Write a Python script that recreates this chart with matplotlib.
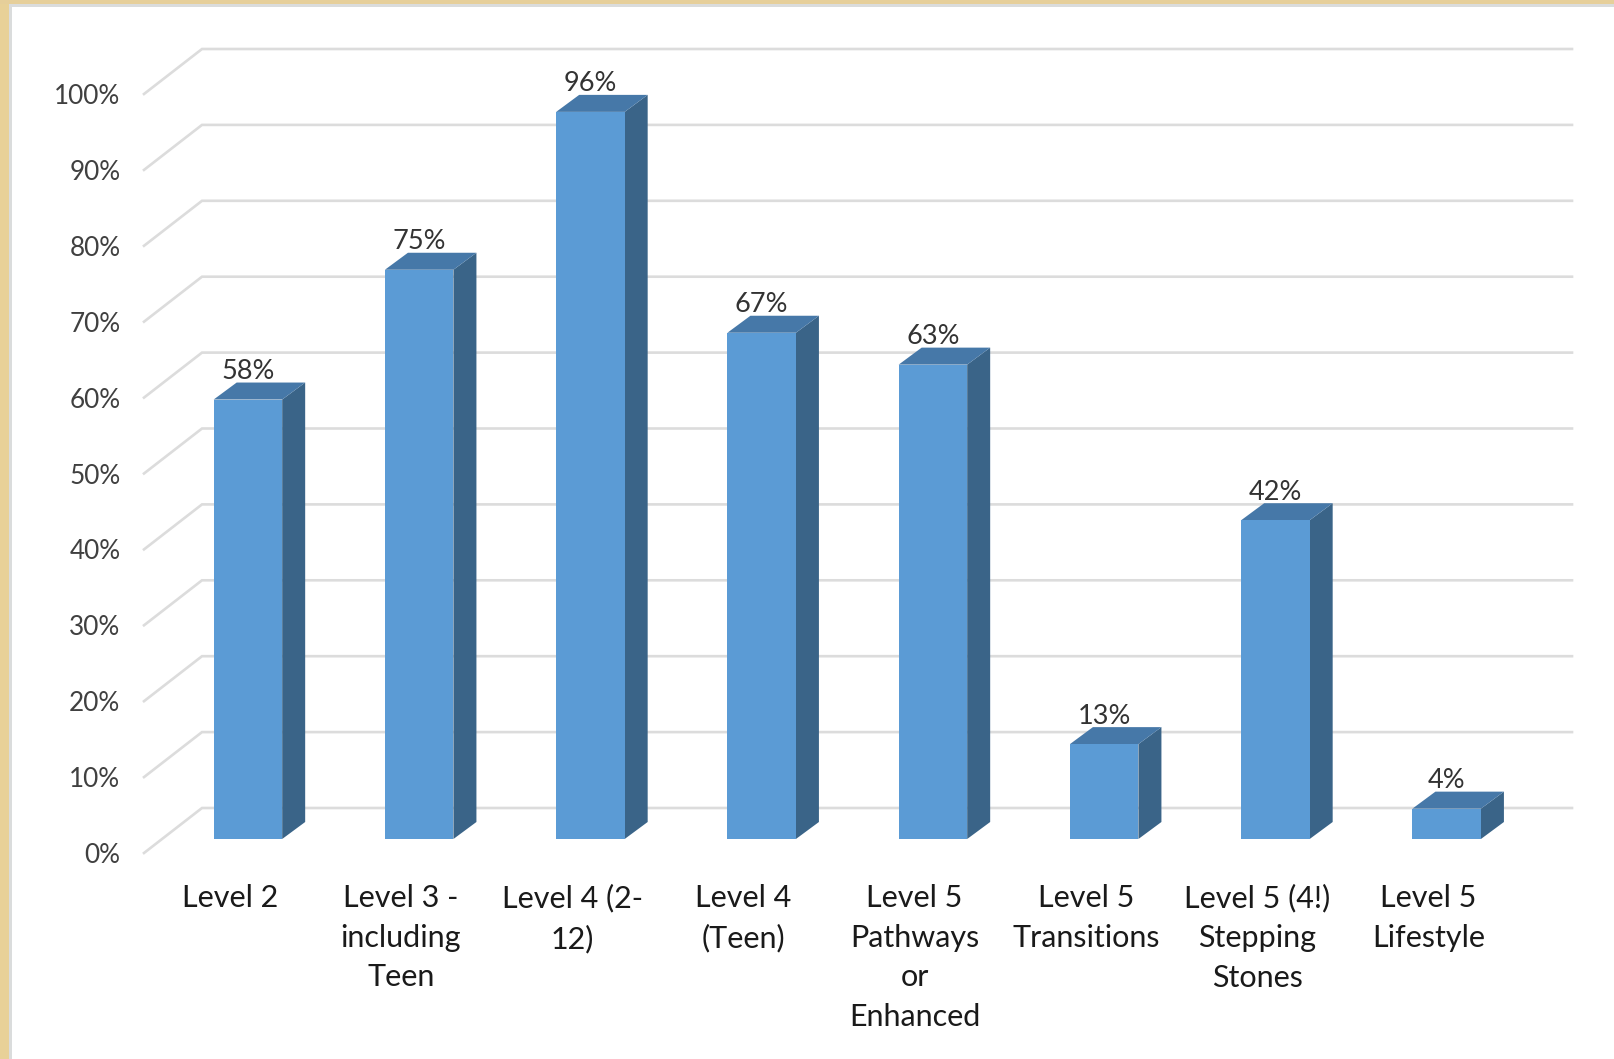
import matplotlib
matplotlib.use("Agg")
import matplotlib.pyplot as plt
from matplotlib.patches import Rectangle

categories = ["Level 2", "Level 3 -\nincluding\nTeen", "Level 4 (2-\n12)", "Level 4\n(Teen)",
              "Level 5\nPathways\nor\nEnhanced", "Level 5\nTransitions", "Level 5 (4!)\nStepping\nStones",
              "Level 5\nLifestyle"]
values = [57.9, 75, 95.8, 66.7, 62.5, 12.5, 42, 4]
value_labels = ["58%", "75%", "96%", "67%", "63%", "13%", "42%", "4%"]
ticks = [0, 10, 20, 30, 40, 50, 60, 70, 80, 90, 100]
tick_labels = [f"{t}%" for t in ticks]

W, H = 1614, 1059
plt.rcParams['font.family'] = ['Lato', 'DejaVu Sans']
fig = plt.figure(figsize=(W / 100, H / 100), dpi=100, facecolor="white")

# frame strips
fig.add_artist(Rectangle((0, 0), 12 / W, 1, transform=fig.transFigure, fc="#DADCDC", ec="none"))
fig.add_artist(Rectangle((0, 1 - 7 / H), 1, 7 / H, transform=fig.transFigure, fc="#DADCDC", ec="none"))
fig.add_artist(Rectangle((0, 0), 9 / W, 1, transform=fig.transFigure, fc="#E8D198", ec="none"))
fig.add_artist(Rectangle((0, 1 - 4 / H), 1, 4 / H, transform=fig.transFigure, fc="#E6CF9A", ec="none"))

# front plane of the axis
left, right, bottom, top = 144, 1514, 853, 94
ax = fig.add_axes([left / W, 1 - bottom / H, (right - left) / W, (bottom - top) / H])
ax.patch.set_alpha(0)
ax.set_xlim(-0.5, 7.5)
ax.set_ylim(0, 100)
px_x = (right - left) / 8
px_y = (bottom - top) / 100

# projected offsets, in data units
wall_dx, wall_dy = 58 / px_x, 45 / px_y
bar_dx, bar_dy = 18.3 / px_x, 14 / px_y
depth_dx, depth_dy = 23 / px_x, 17 / px_y
bar_w = 68.5 / px_x

grid_c = "#DCDCDC"
for t in ticks:
    ax.plot([-0.5, -0.5 + wall_dx, 7.5 + wall_dx], [t, t + wall_dy, t + wall_dy],
            color=grid_c, lw=1.9, clip_on=False, zorder=1, solid_joinstyle="miter")

for i, v in enumerate(values):
    x0 = i + bar_dx - bar_w / 2
    x1 = x0 + bar_w
    y0 = bar_dy
    y1 = v + bar_dy
    ax.fill([x1, x1 + depth_dx, x1 + depth_dx, x1], [y0, y0 + depth_dy, y1 + depth_dy, y1],
            color="#3A6488", lw=0, clip_on=False, zorder=2)
    ax.fill([x0, x1, x1 + depth_dx, x0 + depth_dx], [y1, y1, y1 + depth_dy, y1 + depth_dy],
            color="#4678A8", lw=0, clip_on=False, zorder=2)
ax.bar([i + bar_dx for i in range(len(values))], values, width=bar_w, bottom=bar_dy,
       color="#5B9BD5", lw=0, clip_on=False, zorder=3)

for i, (v, lab) in enumerate(zip(values, value_labels)):
    ax.text(i + bar_dx, v + bar_dy + 28 / px_y, lab, ha="center", va="center",
            fontsize=19.5, color="#333333", zorder=4, clip_on=False)

for s in ax.spines.values():
    s.set_visible(False)
ax.set_yticks(ticks)
ax.set_yticklabels(tick_labels, fontsize=18.8, color="#404040")
ax.set_xticks(range(len(categories)))
ax.set_xticklabels(categories, fontsize=22, color="#1A1A1A", linespacing=1.52)
ax.tick_params(axis="y", length=0, pad=17)
ax.tick_params(axis="x", length=0, pad=22)

fig.savefig("out.png", dpi=100, facecolor="white")
